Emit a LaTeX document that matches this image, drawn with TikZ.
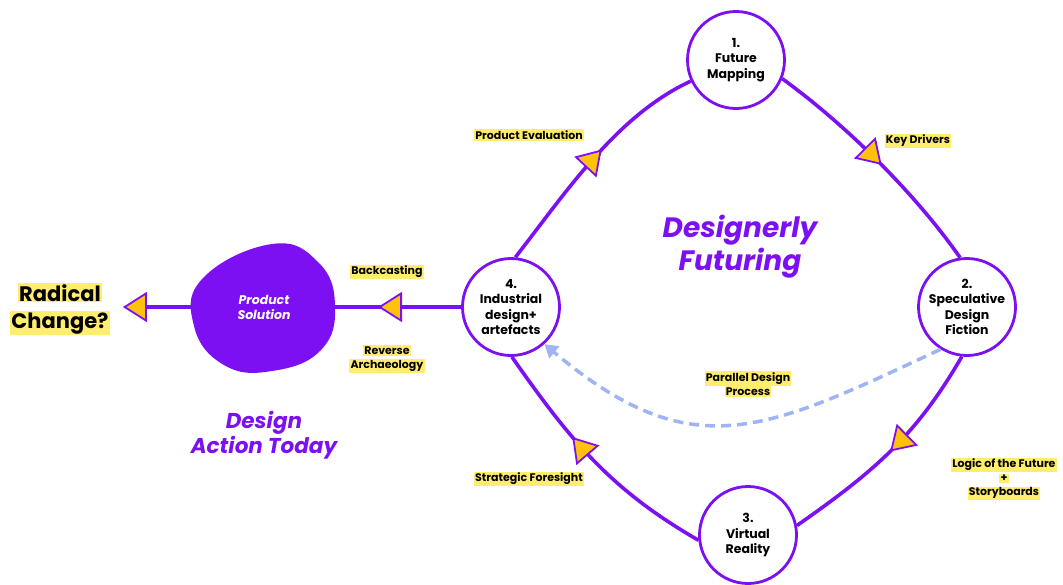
\documentclass[tikz,border=0pt]{standalone}
\usepackage{fontspec}
\setmainfont{Poppins}
\usetikzlibrary{arrows.meta,decorations.markings,positioning}

\definecolor{futviolet}{RGB}{124,16,242}
\definecolor{tipyellow}{RGB}{255,194,10}
\definecolor{hlyellow}{RGB}{255,238,110}
\definecolor{dashblue}{RGB}{160,180,245}

\setlength{\fboxsep}{1.2pt}
\newcommand{\hlbox}[1]{\colorbox{hlyellow}{#1}}

\tikzset{
  stage/.style={circle, draw=futviolet, line width=2.8pt, fill=white,
    minimum size=97pt, inner sep=0pt, align=center,
    font=\bfseries\fontsize{12.5}{15.5}\selectfont},
  flow/.style={draw=futviolet, line width=3.6pt},
  flowtip/.tip={Triangle[length=24pt, width=30pt, color=futviolet,
    fill=tipyellow, line width=1.8pt]},
  flowmark/.style={postaction={decorate},
    decoration={markings, mark=at position #1 with {\arrow{flowtip}}}},
  parallel/.style={draw=dashblue, line width=3.5pt, dash pattern=on 10pt off 6pt},
  tag/.style={align=center, inner sep=0pt,
    font=\bfseries\fontsize{11}{14}\selectfont},
  heading/.style={align=center, text=futviolet, inner sep=0pt,
    font=\bfseries\itshape\fontsize{28}{33}\selectfont}
}

\begin{document}
\begin{tikzpicture}[x=1pt,y=1pt]
  \useasboundingbox (0,0) rectangle (1063,-584);

  % the four stages
  \node[stage] (n1) at (736,-60) {1.\\Future\\Mapping};
  \node[stage] (n2) at (967,-307) {2.\\Speculative\\Design\\Fiction};
  \node[stage] (n3) at (748,-535) {3.\\Virtual\\Reality};
  \node[stage] (n4) at (511,-307) {4.\\Industrial\\design+\\artefacts};

  % product blob
  \fill[futviolet] plot[smooth cycle, tension=0.75] coordinates
    {(272,-244) (318,-262) (335,-305) (321,-350) (272,-371) (224,-365) (194,-326) (203,-278)};
  \node[circle, minimum size=142pt, inner sep=0pt, align=center, text=white,
    font=\bfseries\itshape\fontsize{12.5}{15}\selectfont] (sol) at (264,-307) {Product\\Solution};

  \node[align=center, inner sep=0pt, font=\bfseries\fontsize{21}{27}\selectfont]
    (radical) at (60,-309) {\hlbox{Radical}\\\hlbox{Change?}};

  % loop
  \draw[flow, flowmark=0.55] (n4.85) to[out=52,in=205,looseness=0.85] (n1.205);
  \draw[flow, flowmark=0.52] (n1.-22) to[out=-36,in=125,looseness=0.8] (n2.98);
  \draw[flow, flowmark=0.5] (n2.264) to[out=-120,in=35] (n3.11);
  \draw[flow, flowmark=0.62] (n3.186) to[out=150,in=-55] (n4.271);
  \draw[parallel, -{Triangle[length=13pt,width=15pt]}]
    (n2.238) to[out=205,in=-40,looseness=1.25] (n4.-48);

  % out to today
  \draw[flow, flowmark=0.66] (n4.west) -- (sol.east);
  \draw[flow, shorten >=13pt, -flowtip] (sol.west) -- (radical.east |- sol.west);

  % labels
  \node[tag] (pe) at (529,-135) {\hlbox{Product Evaluation}};
  \node[tag] (kd) at (918,-141) {\hlbox{Key Drivers}};
  \node[tag] (bc) at (387,-272) {\hlbox{Backcasting}};
  \node[tag] (ra) at (387,-359) {\hlbox{Reverse}\\\hlbox{Archaeology}};
  \node[tag] (pd) at (748,-384) {\hlbox{Parallel Design}\\\hlbox{Process}};
  \node[tag] (sf) at (529,-479) {\hlbox{Strategic Foresight}};
  \node[tag] (lf) at (1004,-479) {\hlbox{Logic of the Future}\\\hlbox{+}\\\hlbox{Storyboards}};

  \node[heading] (fut) at (740,-247) {Designerly\\Futuring};
  \node[heading, font=\bfseries\itshape\fontsize{21.5}{25}\selectfont]
    (today) at (264,-435) {Design\\Action Today};
\end{tikzpicture}
\end{document}
